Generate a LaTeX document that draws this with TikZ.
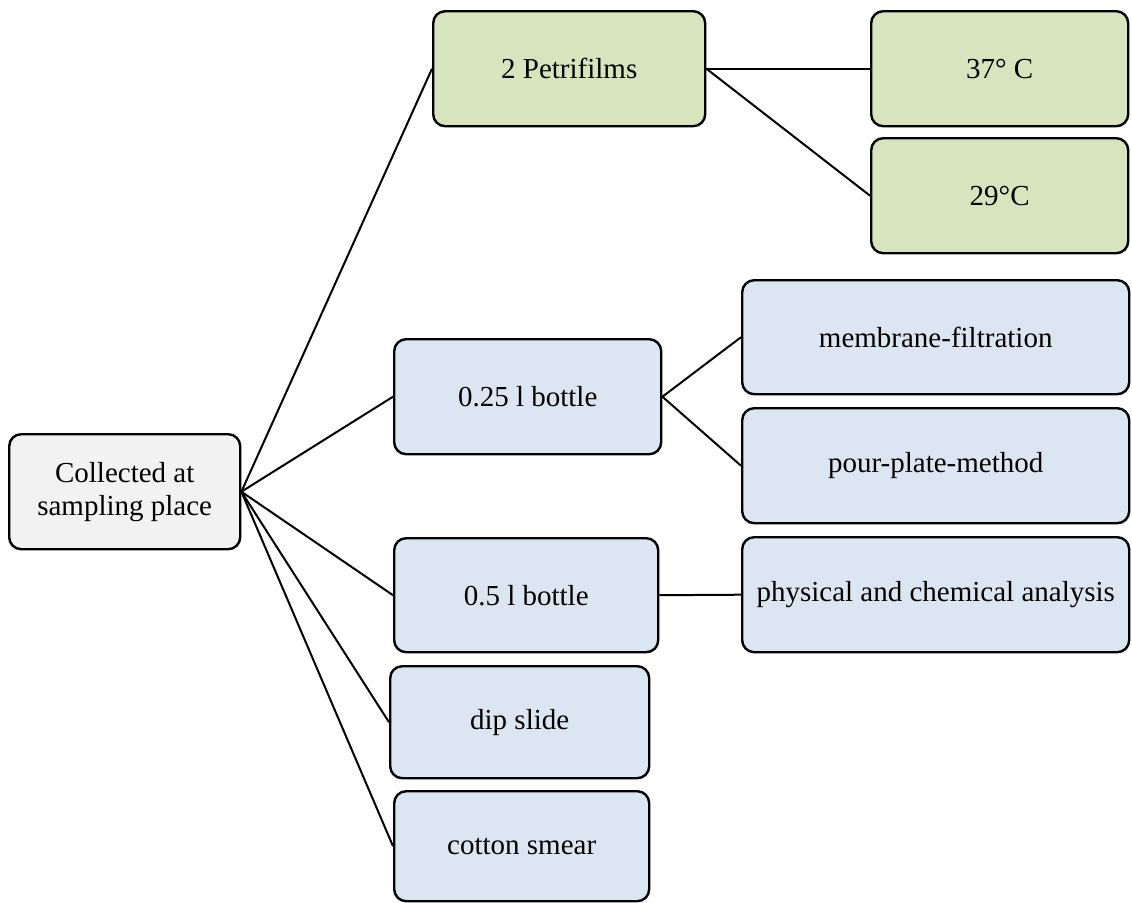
\documentclass[tikz,border=0pt]{standalone}
\usepackage{fontspec}
\setmainfont{Liberation Serif}
\definecolor{grfill}{HTML}{D7E4BD}
\definecolor{blfill}{HTML}{DCE6F2}
\definecolor{gyfill}{HTML}{F2F2F2}
\begin{document}
\begin{tikzpicture}[x=1pt,y=-1pt,
  box/.style={draw=black, line width=2.4pt, rounded corners=12pt, anchor=north west, inner sep=0pt, align=center, font=\fontsize{29}{33}\selectfont},
  gbox/.style={box, fill=grfill},
  bbox/.style={box, fill=blfill},
  link/.style={line width=2pt}]
\useasboundingbox (0,0) rectangle (1132,902);
\node[box, fill=gyfill, minimum width=231pt, minimum height=115pt] (root) at (8,433) {Collected at\\sampling place};
\node[gbox, minimum width=272pt, minimum height=115pt] (pf) at (432,10) {2 Petrifilms};
\node[gbox, minimum width=257pt, minimum height=115pt] (t37) at (870,10) {37° C};
\node[gbox, minimum width=257pt, minimum height=115pt] (t29) at (870,137) {29°C};
\node[bbox, minimum width=267pt, minimum height=115pt] (b25) at (393,338) {0.25 l bottle};
\node[bbox, minimum width=387pt, minimum height=114pt] (mf) at (741,279) {membrane-filtration};
\node[bbox, minimum width=387pt, minimum height=115pt] (pp) at (741,407) {pour-plate-method};
\node[bbox, minimum width=264pt, minimum height=114pt] (b5) at (393,537) {0.5 l bottle};
\node[bbox, minimum width=387pt, minimum height=115pt] (pc) at (741,536) {physical and chemical analysis};
\node[bbox, minimum width=259pt, minimum height=112pt] (dip) at (389,665) {dip slide};
\node[bbox, minimum width=255pt, minimum height=110pt] (cot) at (393,790) {cotton smear};
\draw[link] (root.east) -- (pf.west);
\draw[link] (root.east) -- (b25.west);
\draw[link] (root.east) -- (b5.west);
\draw[link] (root.east) -- (dip.west);
\draw[link] (root.east) -- (cot.west);
\draw[link] (pf.east) -- (t37.west);
\draw[link] (pf.east) -- (t29.west);
\draw[link] (b25.east) -- (mf.west);
\draw[link] (b25.east) -- (pp.west);
\draw[link] (b5.east) -- (pc.west);
\end{tikzpicture}
\end{document}
